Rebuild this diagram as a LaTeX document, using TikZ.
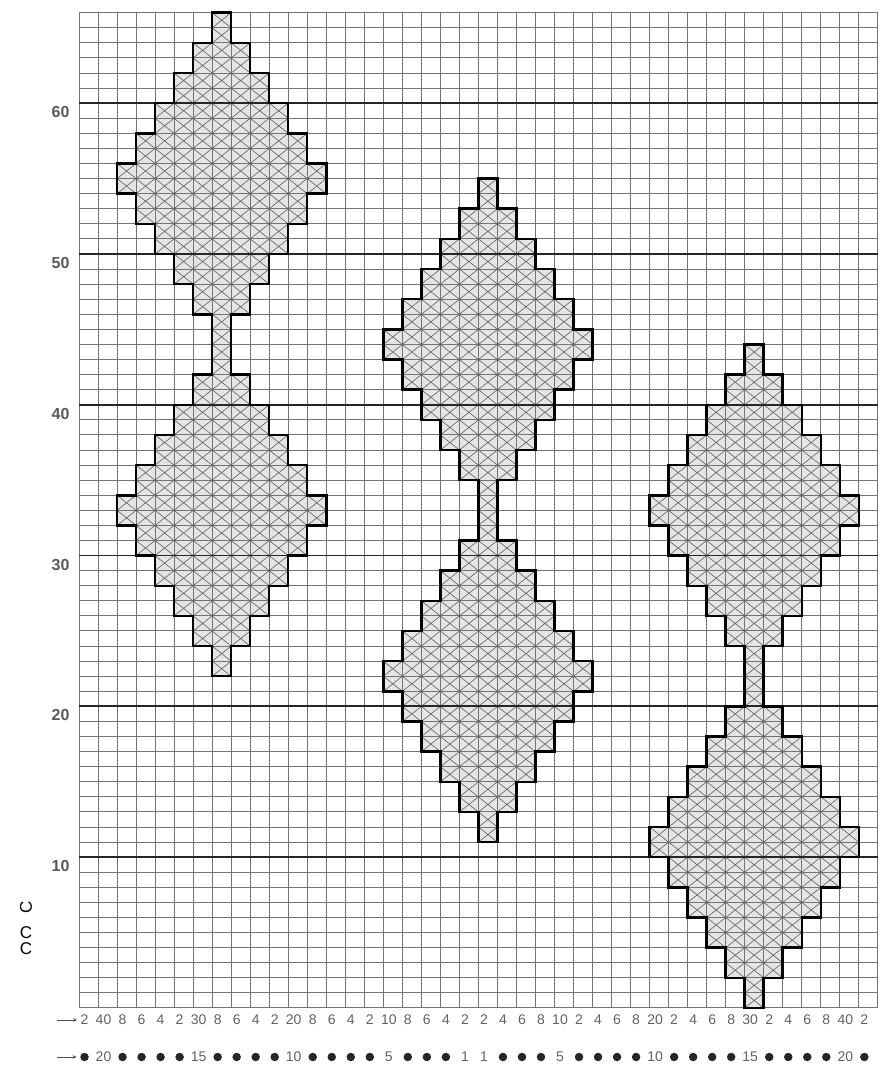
\documentclass[tikz,border=0pt]{standalone}
\usepackage{fontspec}
\setmainfont{Liberation Sans}
\usetikzlibrary{arrows.meta}
\begin{document}
\begin{tikzpicture}[x=19.02pt,y=15.08pt,
  gridline/.style={draw=black!55,line width=1pt},
  tenline/.style={draw=black!85,line width=1.8pt},
  knitfill/.style={fill=black!10},
  cross/.style={draw=black!60,line width=0.65pt},
  outline/.style={draw=black,line width=2.5pt,line join=miter},
  rowlab/.style={text=black!65,font=\fontsize{16}{16}\selectfont\bfseries,anchor=east},
  stlab/.style={text=black!62,font=\fontsize{14}{14}\selectfont},
  stdot/.style={circle,fill=black!85,inner sep=0pt,minimum size=8.5pt},
  oddlab/.style={inner sep=0pt,font=\fontsize{17}{17}\selectfont},
  arr/.style={-{Stealth[length=4pt,width=3.6pt]},line width=0.8pt,black!70}]
\useasboundingbox (-79pt,-60pt) rectangle (810pt,1008pt);
\foreach \c/\b in {7/22,21/11,35/0}
  \foreach \k in {0,...,21} {
    \pgfmathtruncatemacro\h{min(mod(\k,11),10-mod(\k,11))}
    \fill[knitfill] ({\c-\h},{\b+2*\k}) rectangle ({\c+1+\h},{\b+2*\k+2});
  }
\foreach \n in {0,...,42} \draw[gridline] (\n,0) -- (\n,66);
\foreach \n in {0,...,66} \draw[gridline] (0,\n) -- (42,\n);
\foreach \c/\b in {7/22,21/11,35/0}
  \foreach \k in {0,...,21} {
    \pgfmathtruncatemacro\xa{\c-min(mod(\k,11),10-mod(\k,11))}
    \pgfmathtruncatemacro\xb{\c+min(mod(\k,11),10-mod(\k,11))}
    \pgfmathtruncatemacro\ya{\b+2*\k}
    \foreach \i in {\xa,...,\xb}
      \draw[cross] (\i,\ya) -- ++(1,1) -- ++(-1,1) ++(1,0) -- ++(-1,-1) -- ++(1,-1);
  }
\foreach \r in {10,20,...,60} \draw[tenline] (0,\r) -- (42,\r);
\foreach \c/\b in {7/22,21/11,35/0}
  \draw[outline] (\c,\b)
    \foreach \k [evaluate=\k as \h using {min(mod(\k,11),10-mod(\k,11))}] in {0,...,21} { -- ({\c+1+\h},{\b+2*\k}) -- ({\c+1+\h},{\b+2*\k+2}) }
    \foreach \k [evaluate=\k as \h using {min(mod(\k,11),10-mod(\k,11))}] in {21,20,...,0} { -- ({\c-\h},{\b+2*\k+2}) -- ({\c-\h},{\b+2*\k}) } -- cycle;
\foreach \r in {10,20,...,60} \node[rowlab] (r\r) at ([xshift=-6pt,yshift=-9pt]0,\r) {\r};
\foreach \t [count=\i from 0] in {2,40,8,6,4,2,30,8,6,4,2,20,8,6,4,2,10,8,6,4,2,2,4,6,8,10,2,4,6,8,20,2,4,6,8,30,2,4,6,8,40,2}
  \node[stlab] (c\i) at ([xshift=-4pt,yshift=-12pt]{\i+0.5},0) {\t};
\foreach \t [count=\i from 0] in {0,20,0,0,0,0,15,0,0,0,0,10,0,0,0,0,5,0,0,0,1,1,0,0,0,5,0,0,0,0,10,0,0,0,0,15,0,0,0,0,20,0} {
  \ifnum\t=0
    \node[stdot] (s\i) at ([xshift=-4pt,yshift=-49pt]{\i+0.5},0) {};
  \else
    \node[stlab] (s\i) at ([xshift=-4pt,yshift=-49pt]{\i+0.5},0) {\t};
  \fi
}
\coordinate (a1) at (-22pt,-12pt);
\coordinate (a2) at (-22pt,-49pt);
\draw[arr] (a1) -- (c0.west);
\draw[arr,shorten >=3.5pt] (a2) -- (s0.west);
\node[oddlab,rotate=90] (u1) at (-53pt,101pt) {C};
\node[oddlab] (u2) at (-53pt,75pt) {C};
\node[oddlab] (u3) at (-53pt,59pt) {C};
\end{tikzpicture}
\end{document}
